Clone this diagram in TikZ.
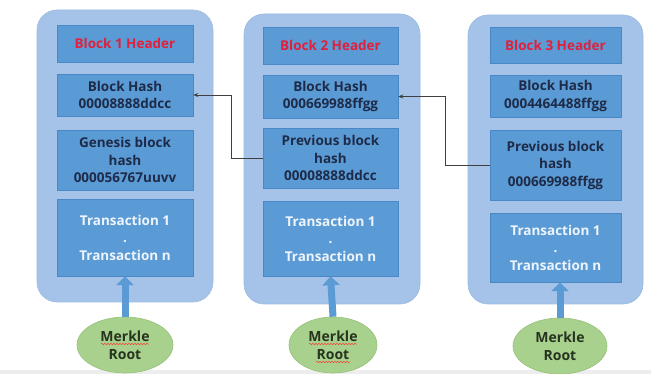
\documentclass[tikz,border=0pt]{standalone}
\usepackage{fontspec}
\setmainfont{Open Sans}
\usetikzlibrary{arrows.meta,shapes.geometric,decorations.pathmorphing,calc}
\definecolor{outerblue}{HTML}{A5C3E8}
\definecolor{outerline}{HTML}{9BBBE2}
\definecolor{innerblue}{HTML}{5B9BD5}
\definecolor{innerline}{HTML}{4A87C6}
\definecolor{hdrred}{HTML}{E0203C}
\definecolor{navy}{HTML}{1E2B48}
\definecolor{txwhite}{HTML}{EEF4FB}
\definecolor{leaf}{HTML}{A9D18E}
\definecolor{leafline}{HTML}{96C078}
\definecolor{leaftext}{HTML}{26331F}
\tikzset{
  outerbox/.style={draw=outerline, fill=outerblue, rounded corners=20pt, line width=0.6pt},
  innerbox/.style={draw=innerline, fill=innerblue, line width=0.5pt, inner sep=0pt, align=center,
     font=\fontsize{13.5}{17.5}\selectfont\bfseries, text=navy},
  hdrbox/.style={innerbox, text=hdrred},
  txbox/.style={innerbox, text=txwhite},
  merkle/.style={ellipse, draw=leafline, fill=leaf, line width=0.6pt, minimum width=92pt, minimum height=56pt,
     inner sep=0pt, align=center, font=\fontsize{14}{18}\selectfont\bfseries, text=leaftext},
  link/.style={draw=black!75, line width=0.6pt, -{Stealth[length=5pt,width=4pt]}},
  feed/.style={draw=innerblue, line width=7pt, -{Triangle[length=9pt,width=17pt]}},
  spell/.style={draw=red!80, line width=0.5pt, decorate, decoration={snake, amplitude=0.6pt, segment length=3pt}}
}
\begin{document}
\begin{tikzpicture}[x=1pt,y=-1pt]
\useasboundingbox (0,0) rectangle (651,374);
\fill[white] (0,0) rectangle (651,374);
\fill[black!7] (0,370) rectangle (651,374);

% outer blocks
\draw[outerbox] (37,10) rectangle (213,302);
\draw[outerbox] (244,14) rectangle (420,304);
\draw[outerbox] (468,15) rectangle (643,304);

% block 1
\node[hdrbox, minimum width=136pt, minimum height=37pt] (h1) at (125,43.5) {Block 1 Header};
\node[innerbox, minimum width=136pt, minimum height=42pt] (bh1) at (125,95) {Block Hash\\00008888ddcc};
\node[innerbox, minimum width=136pt, minimum height=60pt] (gh1) at (125,160) {Genesis block\\hash\\000056767uuvv};
\node[txbox, minimum width=136pt, minimum height=77pt] (tx1) at (125,237.5) {Transaction 1\\.\\Transaction n};

% block 2
\node[hdrbox, minimum width=135pt, minimum height=37pt] (h2) at (330.5,45.5) {Block 2 Header};
\node[innerbox, minimum width=135pt, minimum height=43pt] (bh2) at (330.5,96.5) {Block Hash\\000669988ffgg};
\node[innerbox, minimum width=135pt, minimum height=60pt] (ph2) at (330.5,158) {Previous block\\hash\\00008888ddcc};
\node[txbox, minimum width=135pt, minimum height=75pt] (tx2) at (330.5,238.5) {Transaction 1\\.\\Transaction n};

% block 3
\node[hdrbox, minimum width=131pt, minimum height=36pt] (h3) at (555.5,45) {Block 3 Header};
\node[innerbox, minimum width=131pt, minimum height=42pt] (bh3) at (555.5,96) {Block Hash\\0004464488ffgg};
\node[innerbox, minimum width=131pt, minimum height=70pt] (ph3) at (555.5,165) {Previous block\\hash\\000669988ffgg};
\node[txbox, minimum width=131pt, minimum height=69pt] (tx3) at (555.5,247.5) {Transaction 1\\.\\Transaction n};

% merkle roots
\node[merkle, minimum width=96pt] (m1) at (125,345) {Merkle\\Root};
\node[merkle, minimum width=88pt] (m2) at (333,345) {Merkle\\Root};
\node[merkle, minimum width=94pt] (m3) at (560,346) {Merkle\\Root};

\draw[feed] (m1.north) -- (tx1.south);
\draw[feed] (m2.north) -- (tx2.south);
\draw[feed] (m3 |- m3.north) -- (m3 |- tx3.south);

% links between blocks
\coordinate (k1) at (231,0);
\coordinate (k2) at (445,0);
\draw[link] (ph2.west) -| (k1 |- bh1.east) -- (bh1.east);
\draw[link] (ph3.west) -| (k2 |- bh2.east) -- (bh2.east);

% spell-check underlines
\draw[spell] ($(m1)+(-24,-1)$) -- ($(m1)+(24,-1)$);
\draw[spell] ($(m2)+(-24,-1)$) -- ($(m2)+(24,-1)$);
\draw[spell] ($(m2)+(-17,17)$) -- ($(m2)+(17,17)$);
\end{tikzpicture}
\end{document}
